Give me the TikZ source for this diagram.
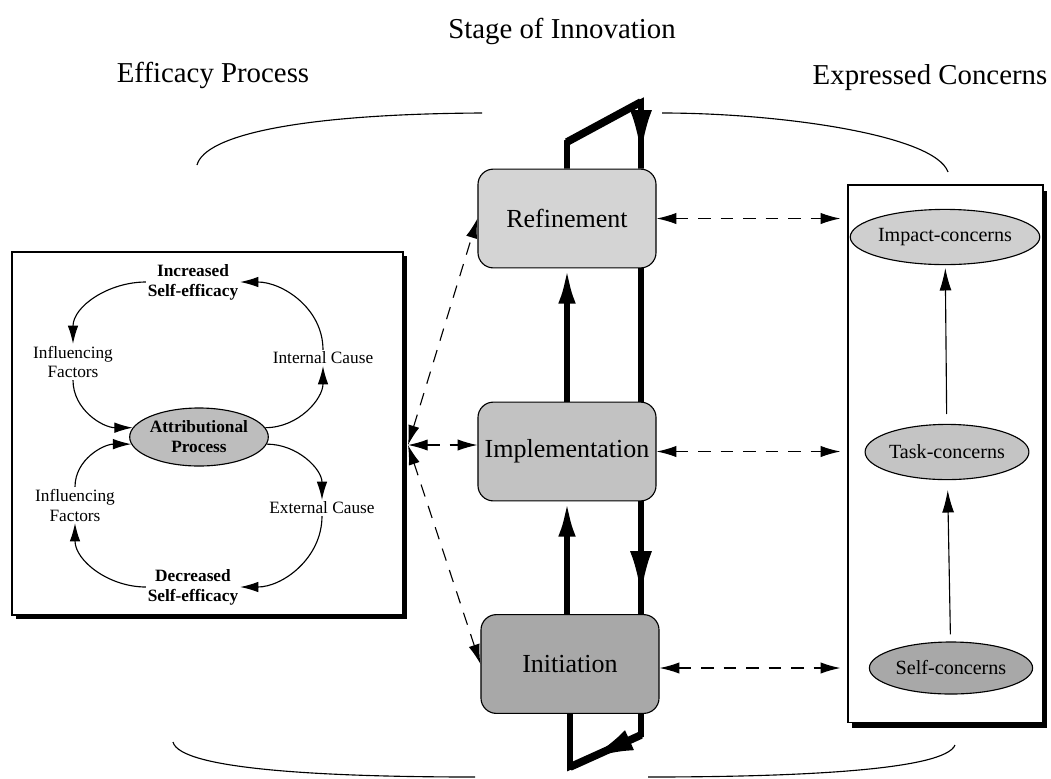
\documentclass[tikz,border=0pt]{standalone}
\usepackage{fontspec}
\setmainfont{Liberation Serif}
\usetikzlibrary{arrows.meta,shapes.geometric,shadows,decorations.markings}

\definecolor{refinegray}{gray}{0.83}
\definecolor{implgray}{gray}{0.76}
\definecolor{initgray}{gray}{0.66}
\definecolor{attrgray}{gray}{0.74}
\definecolor{impactgray}{gray}{0.81}
\definecolor{taskgray}{gray}{0.77}
\definecolor{selfgray}{gray}{0.66}

\begin{document}
\begin{tikzpicture}[x = 0.025cm, y = 0.025cm,
        every node/.style={inner sep=1pt, align=center},
        every path/.style={line width=0.8pt},
        midtip/.style={postaction={decorate}, decoration={markings,
            mark=at position #1 with {\arrow{Latex[length=20pt,width=11pt]}}}}
]
\tikzstyle{stage}= [draw, rounded corners=11pt, minimum width=4.45cm, minimum height=2.47cm, font=\fontsize{18.5}{22}\selectfont]
\tikzstyle{concern}= [draw, ellipse, inner sep=0pt, minimum width=4.08cm, minimum height=1.38cm, font=\fontsize{14.3}{17}\selectfont]
\tikzstyle{factor}= [font=\fontsize{12.3}{14.2}\selectfont]
\tikzstyle{heading}= [font=\fontsize{20.5}{24}\selectfont]
\tikzstyle{cycle}= [-{Latex[length=13pt,width=7.5pt]}]
\tikzstyle{link}= [dash pattern=on 9pt off 7pt, {Latex[length=14pt,width=8pt]}-{Latex[length=14pt,width=8pt]}]
\tikzstyle{rise}= [-{Latex[length=16pt,width=8.5pt]}]
\tikzstyle{loopline}= [line width=4pt, line join=miter]
\tikzstyle{bigtip}= [-{Latex[length=25pt,width=12.5pt]}]

\useasboundingbox (0,0) rectangle (1051,-778);

% headings
    \node[heading] (stagehead) at (562,-31) {Stage of Innovation};
    \node[heading] (effhead) at (213,-75) {Efficacy Process};
    \node[heading] (conhead) at (930,-78) {Expressed Concerns};

% brackets round the middle column
    \draw (197,-165) .. controls (205,-135) and (300,-114) .. (482,-113);
    \draw (662,-113) .. controls (780,-113) and (935,-135) .. (948,-172);
    \draw (173,-742) .. controls (180,-770) and (330,-777) .. (475,-777);
    \draw (648,-777) .. controls (800,-777) and (945,-770) .. (955,-745);

% efficacy process
    \node[draw, fill=white, minimum width=9.775cm, minimum height=9.075cm,
        drop shadow={shadow xshift=2.8pt, shadow yshift=-2.8pt, fill=black, opacity=1}] (effbox) at (207.5,-433.5) {};
    \node[draw, ellipse, fill=attrgray, inner sep=0pt, minimum width=3.2cm, minimum height=1.45cm,
        font=\fontsize{12.3}{14.2}\selectfont\bfseries] (attr) at (199,-437) {Attributional\\Process};
    \node[factor, font=\fontsize{12.3}{14.2}\selectfont\bfseries] (inc) at (193,-282) {Increased\\Self-efficacy};
    \node[factor, font=\fontsize{12.3}{14.2}\selectfont\bfseries] (dec) at (193,-587) {Decreased\\Self-efficacy};
    \node[factor] (infA) at (73,-362) {Influencing\\Factors};
    \node[factor] (infB) at (75,-505) {Influencing\\Factors};
    \node[factor] (intc) at (323,-358) {Internal Cause};
    \node[factor] (extc) at (322,-508) {External Cause};

    \draw[cycle] (inc.west) to [out=180,in=90] (infA.north);
    \draw[cycle] (intc.north) to [out=90,in=0] (inc.east);
    \draw[cycle] (infA.south) to [out=-90,in=180] (attr.172);
    \draw[cycle] (infB.north) to [out=90,in=180] (attr.186);
    \draw[cycle] (attr.8) to [out=0,in=-90] (intc.south);
    \draw[cycle] (attr.-6) to [out=0,in=90] (extc.north);
    \draw[cycle] (extc.south) to [out=-90,in=0] (dec.east);
    \draw[cycle] (dec.west) to [out=180,in=-90] (infB.south);

% expressed concerns
    \node[draw, fill=white, minimum width=4.875cm, minimum height=13.425cm,
        drop shadow={shadow xshift=3pt, shadow yshift=-4pt, fill=black, opacity=1}] (conbox) at (945.5,-453.5) {};
    \node[concern, fill=impactgray] (impact) at (945,-237) {Impact-concerns};
    \node[concern, fill=taskgray] (task) at (947,-452) {Task-concerns};
    \node[concern, fill=selfgray, minimum height=1.3cm] (selfc) at (951,-668) {Self-concerns};
    \draw[rise, shorten <=7pt, shorten >=2pt] (task) -- (impact);
    \draw[rise, shorten <=5pt, shorten >=7pt] (selfc) -- (task);

% stage of innovation
    \node[stage, fill=refinegray] (refine) at (567,-218.5) {Refinement};
    \node[stage, fill=implgray] (impl) at (567,-451.5) {Implementation};
    \node[stage, fill=initgray] (init) at (570,-664) {Initiation};

    \coordinate (ltop) at (567,-142);
    \coordinate (rtop) at (641,-102);
    \coordinate (rbot) at (641,-735);
    \coordinate (lbot) at (570,-767);

    \draw[loopline, midtip=-0.7cm] (refine.north) -- (ltop) -- (rtop) -- (rtop |- refine.north);
    \draw[line width=5.5pt] (ltop) -- (rtop);
    \draw[loopline, bigtip] (impl.north) -- (refine.south);
    \draw[loopline, bigtip] (impl.south |- init.north) -- (impl.south);
    \draw[loopline] (rtop |- refine.south) -- (rtop |- impl.north);
    \draw[loopline, midtip=2cm] (rtop |- impl.south) -- (rtop |- init.north);
    \draw[line width=5.5pt] (rbot) -- (lbot);
    \draw[loopline, midtip=1.6cm] (rtop |- init.south) -- (rbot) -- (lbot) -- (lbot |- init.south);

% links between the three columns
    \coordinate (hub) at (408,-445);
    \draw[link] (hub) -- (refine.west);
    \draw[link] (hub) -- (hub -| impl.west);
    \draw[link] (hub) -- (init.west);
    \draw[link, shorten >=5pt] (refine.east) -- (refine.east -| conbox.west);
    \draw[link, shorten >=5pt] (impl.east) -- (impl.east -| conbox.west);
    \draw[link, shorten >=5pt] (init.east |- selfc) -- (selfc -| conbox.west);

\end{tikzpicture}
\end{document}
